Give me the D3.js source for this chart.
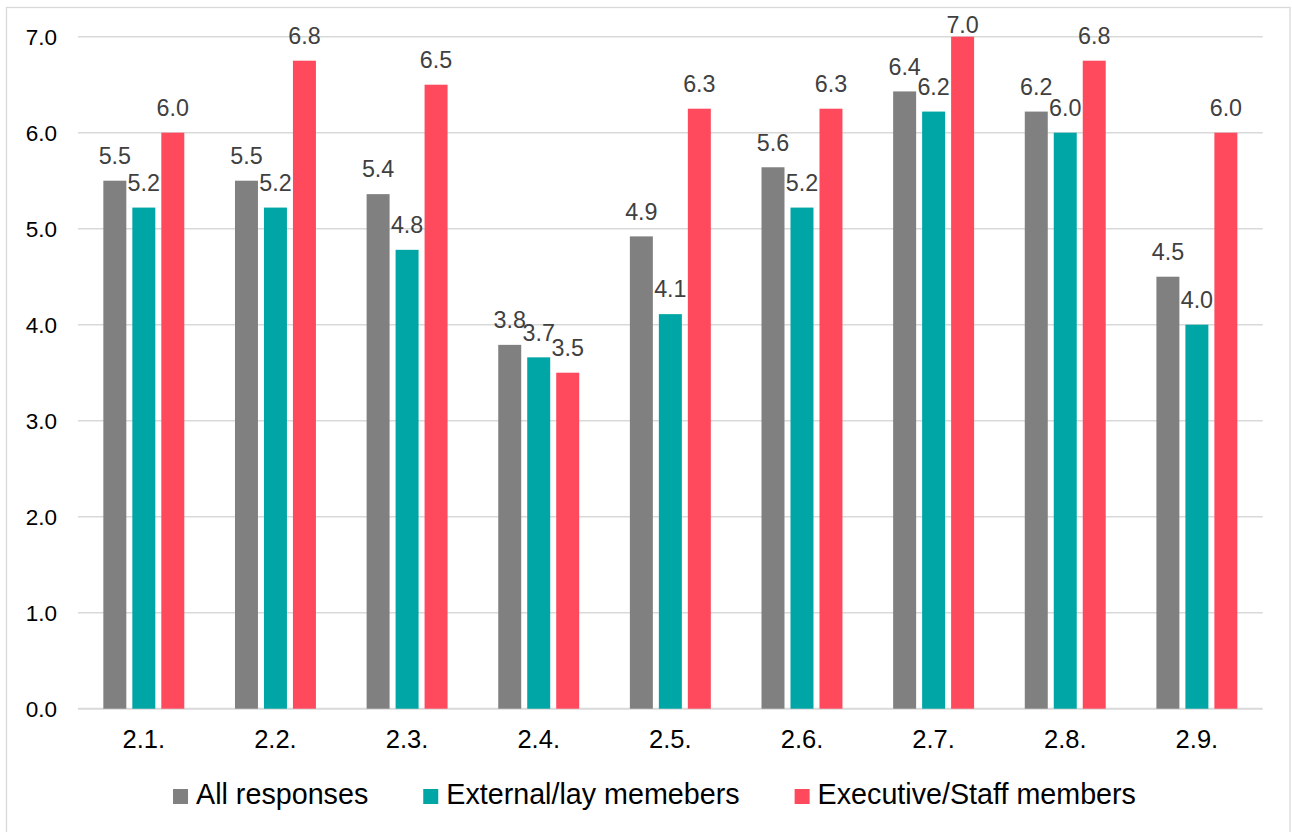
<!DOCTYPE html>
<html>
<head>
<meta charset="utf-8">
<script src="https://cdn.jsdelivr.net/npm/d3@7"></script>
<style>
  html, body { margin: 0; padding: 0; background: #ffffff; }
  svg { display: block; font-family: "Liberation Sans", Arial, sans-serif; }
</style>
</head>
<body>
<svg id="chart" width="1292" height="832"></svg>
<script>
// Question items on the x axis
const categories = ["2.1.", "2.2.", "2.3.", "2.4.", "2.5.", "2.6.", "2.7.", "2.8.", "2.9."];

// Mean scores per respondent group
const seriesNames = ["All responses", "External/lay memebers", "Executive/Staff members"];
const allResponses   = [5.50, 5.50, 5.36, 3.79, 4.92, 5.64, 6.43, 6.22, 4.50];
const externalLay    = [5.22, 5.22, 4.78, 3.66, 4.11, 5.22, 6.22, 6.00, 4.00];
const executiveStaff = [6.00, 6.75, 6.50, 3.50, 6.25, 6.25, 7.00, 6.75, 6.00];
const seriesValues = [allResponses, externalLay, executiveStaff];
const seriesColors = ["#808080", "#00a6a6", "#ff4a5e"];

// Value axis ticks
const yTicks = [0, 1, 2, 3, 4, 5, 6, 7];

const svg = d3.select("#chart");
const plot = { left: 78, right: 1262.7, top: 36.7, bottom: 708.7 };

// Chart area outline
svg.append("rect")
  .attr("x", 6.5).attr("y", 7.5)
  .attr("width", 1283.5).attr("height", 840)
  .attr("fill", "#ffffff")
  .attr("stroke", "#d9d9d9").attr("stroke-width", 1.3);

const y = d3.scaleLinear().domain([0, 7]).range([plot.bottom, plot.top]);

const x = d3.scaleBand()
  .domain(categories)
  .range([plot.left, plot.right])
  .paddingInner(0.385)
  .paddingOuter(0.1925);

const xInner = d3.scaleBand()
  .domain(seriesNames)
  .range([0, x.bandwidth()])
  .paddingInner(0.207);

// Gridlines
svg.append("g")
  .selectAll("line")
  .data(yTicks)
  .join("line")
  .attr("x1", plot.left).attr("x2", plot.right)
  .attr("y1", d => y(d)).attr("y2", d => y(d))
  .attr("stroke", "#d9d9d9")
  .attr("stroke-width", d => d === 0 ? 2 : 1.4);

// Y tick labels
const fmt = d3.format(".1f");
svg.append("g")
  .selectAll("text")
  .data(yTicks)
  .join("text")
  .attr("x", 57)
  .attr("y", d => y(d))
  .attr("dy", "0.36em")
  .attr("text-anchor", "end")
  .attr("font-size", 22.5)
  .attr("fill", "#000000")
  .text(d => fmt(d));

// Bars
const rows = [];
seriesNames.forEach((s, si) => {
  categories.forEach((c, ci) => {
    rows.push({ series: s, si, cat: c, value: seriesValues[si][ci] });
  });
});

svg.append("g")
  .selectAll("rect")
  .data(rows)
  .join("rect")
  .attr("x", d => x(d.cat) + xInner(d.series))
  .attr("y", d => y(d.value))
  .attr("width", xInner.bandwidth())
  .attr("height", d => y(0) - y(d.value))
  .attr("fill", d => seriesColors[d.si]);

// Value labels above bars
svg.append("g")
  .selectAll("text")
  .data(rows)
  .join("text")
  .attr("x", d => x(d.cat) + xInner(d.series) + xInner.bandwidth() / 2)
  .attr("y", d => Math.max(y(d.value) - 16.7, 33.3))
  .attr("text-anchor", "middle")
  .attr("font-size", 23.3)
  .attr("fill", "#404040")
  .text(d => fmt(d.value));

// Category labels
svg.append("g")
  .selectAll("text")
  .data(categories)
  .join("text")
  .attr("x", d => x(d) + x.bandwidth() / 2)
  .attr("y", 748)
  .attr("text-anchor", "middle")
  .attr("font-size", 25.5)
  .attr("fill", "#000000")
  .text(d => d);

// Legend, centred below the plot
const legend = svg.append("g");
const sw = 15, swGap = 8, itemGap = 55, legendCenter = 654.5, legendBase = 804;
const items = seriesNames.map((name, i) => {
  const g = legend.append("g");
  g.append("rect")
    .attr("width", sw).attr("height", sw)
    .attr("y", legendBase - sw)
    .attr("fill", seriesColors[i]);
  const t = g.append("text")
    .attr("x", sw + swGap)
    .attr("y", legendBase)
    .attr("font-size", 28.7)
    .attr("fill", "#000000")
    .text(name);
  return { g, w: sw + swGap + t.node().getComputedTextLength() };
});
const total = d3.sum(items, d => d.w) + itemGap * (items.length - 1);
let cx = legendCenter - total / 2;
items.forEach(it => {
  it.g.attr("transform", `translate(${cx},0)`);
  cx += it.w + itemGap;
});
</script>
</body>
</html>
